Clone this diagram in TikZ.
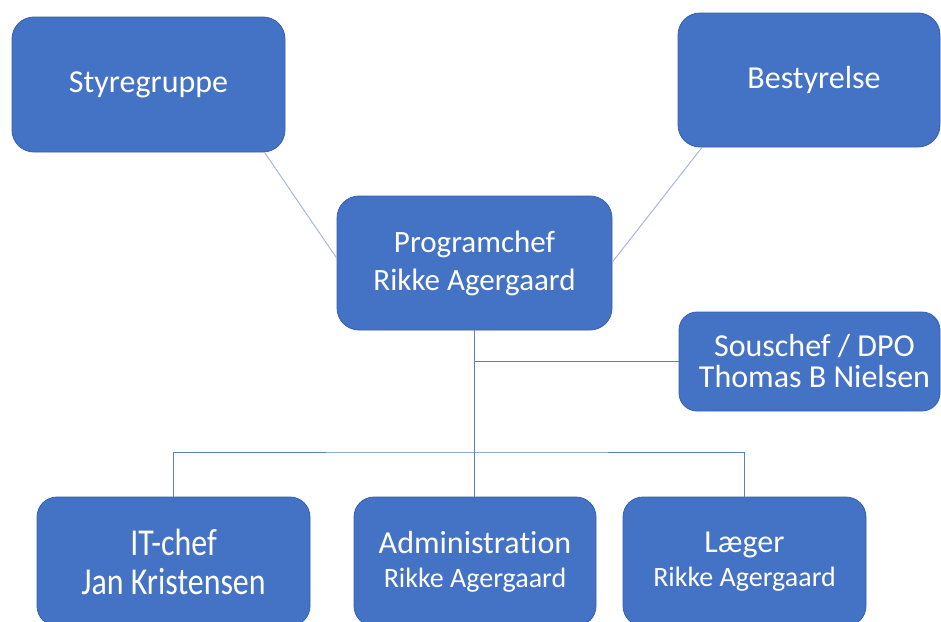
\documentclass[tikz,border=0pt]{standalone}
\usepackage{fontspec}
\setmainfont[Ligatures={NoCommon,NoRare,NoContextual}]{Carlito}
\newfontfamily\narrowA[FakeStretch=0.84,Ligatures={NoCommon,NoRare,NoContextual}]{Carlito}
\definecolor{boxblue}{HTML}{4472C4}
\definecolor{boxedge}{HTML}{3560AE}
\definecolor{linkblue}{HTML}{5B7FC8}
\definecolor{diaglink}{HTML}{A9B9DC}
\tikzset{
  orgbox/.style={draw=boxedge, line width=0.8pt, fill=boxblue, rounded corners=22pt,
    inner sep=0pt, text=white, align=center},
  orgline/.style={draw=linkblue, line width=0.9pt},
  diagline/.style={draw=diaglink, line width=1pt},
}
\begin{document}
\begin{tikzpicture}[x=1pt,y=-1pt]
\useasboundingbox (0,0) rectangle (941,621);
\clip (0,0) rectangle (941,621);
\fill[white] (0,0) rectangle (941,621);

\node[orgbox, minimum width=273pt, minimum height=135pt,
  font=\fontsize{32}{38}\selectfont] (sty) at (148.5,84.5) {Styregruppe};
\node[orgbox, minimum width=262pt, minimum height=134pt,
  font=\fontsize{32}{38}\selectfont] (bes) at (809,80) {\hspace*{10pt}Bestyrelse};
\node[orgbox, minimum width=275pt, minimum height=134pt,
  font=\fontsize{31}{38}\selectfont] (pc) at (474.5,263) {Programchef\\Rikke Agergaard};
\node[orgbox, minimum width=261pt, minimum height=99pt, rounded corners=18pt,
  font=\fontsize{32}{31}\selectfont] (sou) at (809.5,361.5) {\hspace*{10pt}Souschef / DPO\\\hspace*{10pt}Thomas B Nielsen};
\node[orgbox, minimum width=273pt, minimum height=129pt, rounded corners=20pt,
  font=\narrowA\fontsize{38}{39}\selectfont] (it) at (173.5,561.5) {IT-chef\\Jan Kristensen};
\node[orgbox, minimum width=242pt, minimum height=129pt, rounded corners=20pt,
  font=\fontsize{32}{34}\selectfont] (adm) at (475,561.5) {Administration\\{\fontsize{28}{34}\selectfont Rikke Agergaard}};
\node[orgbox, minimum width=243pt, minimum height=129pt, rounded corners=20pt,
  font=\fontsize{32}{34}\selectfont] (lae) at (744.5,561.5) {Læger\\{\fontsize{28}{34}\selectfont Rikke Agergaard}};

\draw[diagline] ([xshift=116pt]sty.south) -- ([yshift=5pt]pc.west);
\draw[diagline] ([xshift=-107pt]bes.south) -- ([yshift=1pt]pc.east);

\coordinate (bus) at (475,452);
\draw[orgline] (pc.south) -- (pc.south |- adm.north);
\draw[orgline] (pc.south |- sou.west) -- (sou.west);
\draw[orgline] (it.north) |- (bus) -| (lae.north);
\end{tikzpicture}
\end{document}
